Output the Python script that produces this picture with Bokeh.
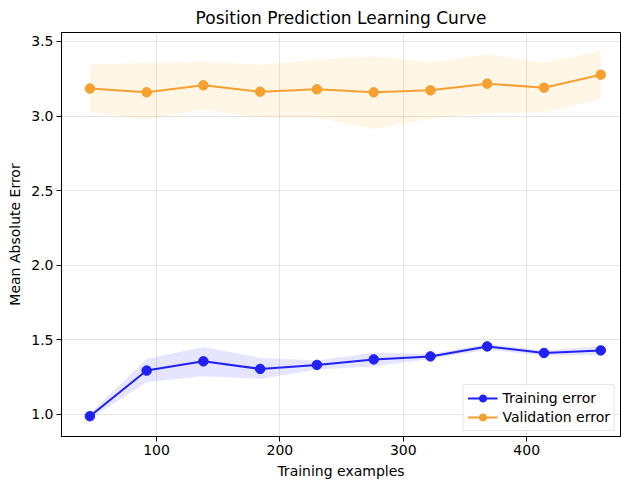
from bokeh.plotting import figure
from bokeh.models import FixedTicker, NumeralTickFormatter, Range1d, ColumnDataSource
from bokeh.embed import file_html
from bokeh.resources import INLINE

train_sizes = [46, 92, 138, 184, 230, 276, 322, 368, 414, 460]
train_mean = [0.987, 1.293, 1.355, 1.304, 1.331, 1.368, 1.388, 1.455, 1.411, 1.428]
train_upper = [1.005, 1.371, 1.451, 1.378, 1.360, 1.415, 1.404, 1.473, 1.428, 1.460]
train_lower = [0.970, 1.214, 1.255, 1.237, 1.300, 1.321, 1.371, 1.433, 1.393, 1.400]
val_mean = [3.184, 3.159, 3.206, 3.163, 3.179, 3.159, 3.172, 3.217, 3.190, 3.277]
val_upper = [3.346, 3.357, 3.366, 3.344, 3.378, 3.400, 3.360, 3.413, 3.357, 3.435]
val_lower = [3.027, 2.976, 3.045, 2.990, 2.990, 2.913, 2.983, 3.020, 3.025, 3.114]
x_ticks = [100, 200, 300, 400]
y_ticks = [1.0, 1.5, 2.0, 2.5, 3.0, 3.5]

FONT = "DejaVu Sans"
BLUE = "#2020f5"
ORANGE = "#f5a030"

p = figure(width=621, height=481, output_backend="svg", toolbar_location=None,
           x_range=Range1d(23, 476), y_range=Range1d(0.851, 3.56),
           title="Position Prediction Learning Curve",
           min_border_left=61, min_border_right=1, min_border_top=4, min_border_bottom=4)

p.title.text_font = FONT
p.title.text_font_size = "17px"
p.title.text_font_style = "normal"
p.title.align = "center"
p.title.text_color = "#000000"

src_t = ColumnDataSource(dict(x=train_sizes, m=train_mean, u=train_upper, l=train_lower))
src_v = ColumnDataSource(dict(x=train_sizes, m=val_mean, u=val_upper, l=val_lower))

p.varea(x="x", y1="l", y2="u", source=src_t, fill_color="blue", fill_alpha=0.1)
p.varea(x="x", y1="l", y2="u", source=src_v, fill_color="orange", fill_alpha=0.1)

p.line("x", "m", source=src_t, line_color=BLUE, line_width=2, legend_label="Training error")
p.scatter("x", "m", source=src_t, size=9.5, fill_color=BLUE, line_color=BLUE, legend_label="Training error")
p.line("x", "m", source=src_v, line_color=ORANGE, line_width=2, legend_label="Validation error")
p.scatter("x", "m", source=src_v, size=9.5, fill_color=ORANGE, line_color=ORANGE, legend_label="Validation error")

for ax in (p.xaxis[0], p.yaxis[0]):
    ax.major_label_text_font = FONT
    ax.major_label_text_font_size = "14px"
    ax.major_label_text_color = "#000000"
    ax.axis_label_text_font = FONT
    ax.axis_label_text_font_size = "14px"
    ax.axis_label_text_font_style = "normal"
    ax.axis_label_text_color = "#000000"
    ax.axis_line_color = "#000000"
    ax.major_tick_line_color = "#000000"
    ax.major_tick_out = 5
    ax.major_tick_in = 0
    ax.minor_tick_line_color = None
    ax.major_label_standoff = 3
    ax.axis_label_standoff = 5

p.xaxis.axis_label = "Training examples"
p.yaxis.axis_label = "Mean Absolute Error"
p.xaxis.ticker = FixedTicker(ticks=x_ticks)
p.yaxis.ticker = FixedTicker(ticks=y_ticks)
p.yaxis.formatter = NumeralTickFormatter(format="0.0")

p.xgrid.ticker = FixedTicker(ticks=x_ticks)
p.ygrid.ticker = FixedTicker(ticks=y_ticks)
p.grid.grid_line_color = "#b0b0b0"
p.grid.grid_line_alpha = 0.35

p.outline_line_color = "#000000"
p.outline_line_alpha = 1.0
p.outline_line_width = 1

p.legend.location = "bottom_right"
p.legend.label_text_font = FONT
p.legend.label_text_font_size = "14px"
p.legend.label_text_color = "#000000"
p.legend.border_line_color = "#cccccc"
p.legend.background_fill_alpha = 0.8
p.legend.margin = 5
p.legend.padding = 4
p.legend.spacing = 1
p.legend.glyph_width = 30
p.legend.label_height = 18
p.legend.glyph_height = 18

open("out.html", "w").write(file_html(p, INLINE))
